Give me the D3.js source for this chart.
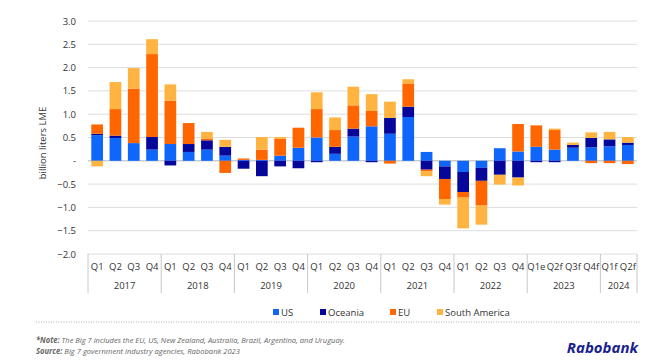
<!DOCTYPE html>
<html><head><meta charset="utf-8">
<script src="https://cdn.jsdelivr.net/npm/d3@7/dist/d3.min.js"></script>
<style>body{margin:0;background:#fff}svg{display:block}text{font-family:"Open Sans",sans-serif}</style>
</head><body><svg id="c" width="660" height="364"></svg>
<script>
const years = ["2017","2018","2019","2020","2021","2022","2023","2024"];
const quarterLabels = [
  ["Q1","Q2","Q3","Q4"],["Q1","Q2","Q3","Q4"],["Q1","Q2","Q3","Q4"],["Q1","Q2","Q3","Q4"],
  ["Q1","Q2","Q3","Q4"],["Q1","Q2","Q3","Q4"],["Q1e","Q2f","Q3f","Q4f"],["Q1f","Q2f"]
];
const seriesNames = ["US","Oceania","EU","South America"];
const US      = [0.55,0.49,0.38,0.24, 0.36,0.19,0.24,0.11, 0.02,0.02,0.11,0.28, 0.50,0.15,0.52,0.74, 0.58,0.94,0.19,-0.12, -0.24,-0.15,0.27,0.20, 0.30,0.24,0.28,0.29, 0.31,0.34];
const Oceania = [0.03,0.05,0.00,0.27, -0.10,0.17,0.20,0.19, -0.17,-0.33,-0.12,-0.16, -0.03,0.15,0.17,-0.03, 0.34,0.22,-0.19,-0.27, -0.43,-0.28,-0.30,-0.36, -0.03,-0.03,0.06,0.20, 0.15,0.05];
const EU      = [0.20,0.57,1.17,1.78, 0.93,0.45,0.04,-0.26, 0.03,0.22,0.36,0.43, 0.61,0.36,0.50,0.33, -0.06,0.50,-0.04,-0.43, -0.12,-0.53,0.00,0.59, 0.46,0.42,0.00,-0.05, -0.05,-0.07];
const SouthAmerica = [-0.12,0.58,0.44,0.32, 0.35,0.00,0.14,0.15, 0.00,0.27,0.04,0.00, 0.36,0.27,0.40,0.36, 0.35,0.09,-0.10,-0.12, -0.66,-0.41,-0.21,-0.17, 0.00,0.03,0.05,0.12, 0.16,0.12];
const yTicks = [3.0,2.5,2.0,1.5,1.0,0.5,0,-0.5,-1.0,-1.5,-2.0];
const colors = {"US":"#0f66fa","Oceania":"#06069a","EU":"#ff6600","South America":"#ffb340"};

const svg = d3.select("#c");
const L = 88, R = 637, T = 21, B = 254;

const rows = [];
years.forEach((y,gi)=>quarterLabels[gi].forEach((q,qi)=>{
  const i = rows.length;
  rows.push({key:y+"-"+q+"-"+qi, year:y, q:q, "US":US[i], "Oceania":Oceania[i], "EU":EU[i], "South America":SouthAmerica[i]});
}));

const x = d3.scaleBand().domain(rows.map(d=>d.key)).range([L,R]).paddingInner(0.36).paddingOuter(0.18);
const y = d3.scaleLinear().domain([-2,3]).range([B,T]);

// gridlines
svg.append("g").selectAll("line").data(yTicks).join("line")
  .attr("x1",L).attr("x2",R).attr("y1",d=>y(d)).attr("y2",d=>y(d))
  .attr("stroke",d=>d===0?"#b5b5b5":"#dedede").attr("stroke-width",1);

// y axis labels
const ya = svg.append("g").attr("transform",`translate(${L-4},0)`)
  .call(d3.axisLeft(y).tickValues(yTicks).tickSize(0).tickPadding(8)
    .tickFormat(d=>d===0?"-":d3.format(".1f")(d)));
ya.select(".domain").remove();
ya.selectAll("text").attr("font-size",9.5).attr("fill","#333").style("font-family","'Open Sans',sans-serif");

svg.append("text").attr("transform","translate(46,143) rotate(-90)")
  .attr("text-anchor","middle").attr("font-size",9.5).attr("fill","#333").text("billion liters LME");

// stacked bars
const stack = d3.stack().keys(seriesNames).offset(d3.stackOffsetDiverging);
const series = stack(rows);
svg.append("g").selectAll("g").data(series).join("g").attr("fill",d=>colors[d.key])
  .selectAll("rect").data(d=>d).join("rect")
  .attr("x",d=>x(d.data.key)).attr("width",x.bandwidth())
  .attr("y",d=>y(Math.max(d[0],d[1]))).attr("height",d=>Math.abs(y(d[0])-y(d[1])));

// x axis quarter labels
const xa = svg.append("g").attr("transform",`translate(0,${B})`)
  .call(d3.axisBottom(x).tickSize(0).tickPadding(9).tickFormat(k=>rows.find(r=>r.key===k).q));
xa.select(".domain").remove();
xa.selectAll("text").attr("font-size",9.5).attr("fill","#333").style("font-family","'Open Sans',sans-serif");

// group separators & year labels
const step = x.step();
let idx = 0;
const bounds = [L];
years.forEach((yr,gi)=>{
  const n = quarterLabels[gi].length;
  const x0 = L + idx*step, x1 = L + (idx+n)*step;
  svg.append("text").attr("x",(x0+x1)/2).attr("y",289).attr("text-anchor","middle")
    .attr("font-size",9.5).attr("fill","#333").text(yr);
  idx += n; bounds.push(x1);
});
svg.append("g").selectAll("line").data(bounds).join("line")
  .attr("x1",d=>d).attr("x2",d=>d).attr("y1",B).attr("y2",293)
  .attr("stroke","#c8c8c8").attr("stroke-width",1);

// legend
const legX = [273,320,390,437];
const lg = svg.append("g").selectAll("g").data(seriesNames).join("g")
  .attr("transform",(d,i)=>`translate(${legX[i]},312)`);
lg.append("rect").attr("x",0).attr("y",-3).attr("width",6).attr("height",6).attr("fill",d=>colors[d]);
lg.append("text").attr("x",8).attr("y",3.5).attr("font-size",9.5).attr("fill","#333").text(d=>d);

// dotted separator
svg.append("line").attr("x1",36).attr("x2",640).attr("y1",322).attr("y2",322)
  .attr("stroke","#999").attr("stroke-dasharray","1,1.5").attr("stroke-width",0.8);

// footnotes
const n1 = svg.append("text").attr("x",36).attr("y",343).attr("font-size",8).attr("fill","#666")
  .attr("font-style","italic").attr("textLength",309).attr("lengthAdjust","spacingAndGlyphs");
n1.append("tspan").attr("font-weight","bold").text("*Note: ");
n1.append("tspan").text("The Big 7 includes the EU, US, New Zealand, Australia, Brazil, Argentina, and Uruguay.");
const n2 = svg.append("text").attr("x",36).attr("y",354).attr("font-size",8).attr("fill","#666")
  .attr("font-style","italic").attr("textLength",204).attr("lengthAdjust","spacingAndGlyphs");
n2.append("tspan").attr("font-weight","bold").text("Source: ");
n2.append("tspan").text("Big 7 government industry agencies, Rabobank 2023");

svg.append("text").attr("x",638).attr("y",353).attr("text-anchor","end")
  .attr("font-size",15).attr("font-weight","bold").attr("font-style","italic")
  .attr("fill","#1a1f8f").text("Rabobank");
</script></body></html>
